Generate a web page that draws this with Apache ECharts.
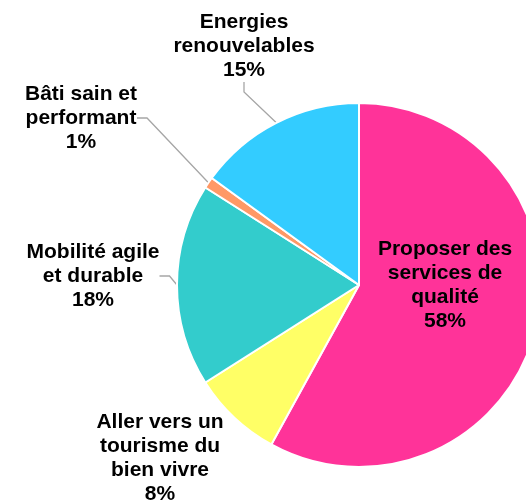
<!DOCTYPE html>
<html>
<head>
<meta charset="utf-8">
<script src="https://cdn.jsdelivr.net/npm/echarts@6/dist/echarts.min.js"></script>
<style>
  html, body { margin: 0; padding: 0; background: #fff; }
  #chart { width: 526px; height: 502px; }
</style>
</head>
<body>
<div id="chart"></div>
<script>
const categories = [
  'Proposer des\nservices de\nqualité',
  'Aller vers un\ntourisme du\nbien vivre',
  'Mobilité agile\net durable',
  'Bâti sain et\nperformant',
  'Energies\nrenouvelables'
]
const values = [58, 8, 18, 1, 15]
const colors = ['#ff3399', '#ffff66', '#33cccc', '#ff9966', '#33ccff']

// where each label sits (centre of the text block)
const labelPos = [[445, 285], [160, 458], [93, 276], [81, 118], [244, 46]]

const chart = echarts.init(document.getElementById('chart'))

const option = {
  animation: false,
  series: [
    {
      type: 'pie',
      center: [359, 285],
      radius: 182,
      startAngle: 90,
      clockwise: true,
      itemStyle: {
        borderColor: '#ffffff',
        borderWidth: 2
      },
      label: {
        show: true,
        position: 'outside',
        formatter: '{b}\n{c}%',
        color: '#000',
        fontFamily: 'Liberation Sans, Arial, sans-serif',
        fontWeight: 'bold',
        fontSize: 21,
        lineHeight: 24,
        align: 'center'
      },
      labelLine: {
        show: true,
        length: 10,
        length2: 10,
        lineStyle: { color: '#a6a6a6', width: 1.3 }
      },
      labelLayout: function (params) {
        const p = labelPos[params.dataIndex]
        return { x: p[0], y: p[1], align: 'center', verticalAlign: 'middle' }
      },
      data: categories.map(function (name, i) {
        const item = { name: name, value: values[i], itemStyle: { color: colors[i] } }
        if (i === 0) {
          item.label = { position: 'inside', color: '#000' }
          item.labelLine = { show: false }
        }
        if (i === 1) item.labelLine = { show: false }
        return item
      })
    }
  ]
}

chart.setOption(option)
</script>
</body>
</html>
